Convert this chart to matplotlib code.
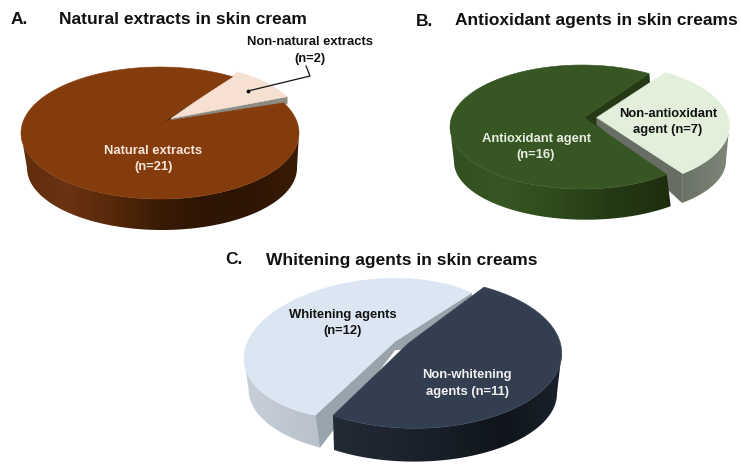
import numpy as np
import matplotlib
matplotlib.use("Agg")
import matplotlib.pyplot as plt
from matplotlib.colors import LinearSegmentedColormap
from matplotlib.patches import Polygon

plt.rcParams['font.family'] = ['Liberation Sans', 'DejaVu Sans']

natural_counts = [21, 2]
antioxidant_counts = [16, 7]
whitening_counts = [12, 11]
panel_letters = ["A.", "B.", "C."]
panel_titles = ["Natural extracts in skin cream", "Antioxidant agents in skin creams", "Whitening agents in skin creams"]

fig = plt.figure(figsize=(7.41, 4.72), dpi=100)
ax = fig.add_axes([0, 0, 1, 1])


def pt(e, t):
    cx, cy, rx, ry, k = e
    t = np.radians(np.atleast_1d(t))
    dx = rx * np.cos(t)
    return np.column_stack([cx + dx, cy - ry * np.sin(t) - k * dx])


def top(apex, e, t0, t1, color, z):
    ts = np.linspace(t0, t1, 300)
    ax.add_patch(Polygon(np.vstack([[apex], pt(e, ts)]), closed=True, fc=color, ec=color, lw=0.4, zorder=z))


def side(e, b, t0, t1, cols, z):
    lo, hi = min(t0, t1), max(t0, t1)
    cmap = LinearSegmentedColormap.from_list('s', cols)
    for shift in (-360, 0, 360):
        a0, a1 = max(lo, 180 + shift), min(hi, 360 + shift)
        if a1 <= a0:
            continue
        ts = np.linspace(a0, a1, 300)
        tp, bt = pt(e, ts), pt(b, ts)
        poly = np.vstack([tp, bt[::-1]])
        xl, xr = min(e[0] - e[2], b[0] - b[2]), max(e[0] + e[2], b[0] + b[2])
        yl, yh = poly[:, 1].min() - 2, poly[:, 1].max() + 2
        im = ax.imshow(np.linspace(0, 1, 256)[None, :], cmap=cmap, extent=(xl, xr, yh, yl),
                       aspect='auto', zorder=z, interpolation='bilinear')
        clip = Polygon(poly, closed=True, transform=ax.transData, fc='none', ec='none')
        ax.add_patch(clip)
        im.set_clip_path(clip)


def face(apex, apex_b, e, b, t, color, z):
    ax.add_patch(Polygon([apex, pt(e, t)[0], pt(b, t)[0], apex_b], closed=True, fc=color, ec=color, lw=0.3, zorder=z))


# Panel A
frac = 360 / sum(natural_counts)
s = 58.5
e_big = (160, 133, 139, 66, 0); b_big = (162, 168, 135, 62, 0)
e_sm = (168, 125, 134, 62, 0); b_sm = (168, 132, 134, 62, 0)
a_big = (163, 121.5); a_sm = (171, 118.5)
face(a_big, (163, 150), e_big, b_big, s, '#5C2A08', 1)
t_small = s - natural_counts[1] * frac
face(a_sm, (171, 125), e_sm, b_sm, t_small, '#8c8c84', 2)
top(a_sm, e_sm, t_small, s, '#F6E0D2', 3)
side(e_big, b_big, t_small, s - 360, ['#5f2d0e', '#6b3312', '#562809', '#3a1b06', '#2e1504', '#2e1504', '#3a1b06'], 4)
top(a_big, e_big, t_small, s - 360, '#843C0C', 5)

# Panel B
frac = 360 / sum(antioxidant_counts)
s = 59.5
e_big = (582, 127, 132, 62, 0); b_big = (586, 161.7, 132, 58, 0)
e_sm = (599.3, 126, 130, 62, 0); b_sm = (604, 160.7, 122, 55, 0)
a_big = (584, 117.5); a_sm = (596.7, 117.5)
face(a_big, (584, 152), e_big, b_big, s, '#243A15', 1)
t_small = s - antioxidant_counts[1] * frac
side(e_sm, b_sm, t_small, s, ['#5c6556', '#5c6556', '#5c6556', '#5f6a5a', '#7f867a'], 2)
face(a_sm, (596.7, 124.5), e_sm, b_sm, t_small, '#686E64', 2.5)
top(a_sm, e_sm, t_small, s, '#E2EFDA', 3)
side(e_big, b_big, t_small, s - 360, ['#32501f', '#375623', '#2f4a1c', '#243a15', '#1d2f10', '#17260c'], 4)
top(a_big, e_big, t_small, s - 360, '#375623', 5)

# Panel C
frac = 360 / sum(whitening_counts)
s_pale = 45
e_p = (377.3, 349, 133.3, 70, 0.07); b_p = (382, 390, 133.3, 65, 0.0)
e_d = (415, 353.3, 146.7, 75, 0); b_d = (414, 393.3, 143, 68.3, 0)
a_p = (395, 341.5); a_d = (408.3, 343.3)
t_pale = s_pale + whitening_counts[0] * frac * 1.05
face(a_p, (395, 350), e_p, b_p, s_pale, '#98A3AC', 1)
face(a_p, (395, 350), e_p, b_p, t_pale, '#98A3AC', 1)
side(e_p, b_p, s_pale, t_pale, ['#C7D0D9', '#BAC3CD', '#A9B3BD', '#A9B3BD', '#A9B3BD'], 1.5)
top(a_p, e_p, s_pale, t_pale, '#DCE6F2', 2)
d0 = 236
d1 = d0 + whitening_counts[1] * frac * 1.08
side(e_d, b_d, d0, d1, ['#232B37', '#232B37', '#1E2530', '#181E27', '#10151b', '#1a212b'], 3)
top(a_d, e_d, d0, d1, '#333F50', 4)

# Texts
for x, y, s_ in [(11, 19, panel_letters[0]), (416, 21, panel_letters[1]), (225, 260, panel_letters[2])]:
    ax.text(x, y, s_, fontsize=12.5, fontweight='bold', color='#111111', va='center', ha='left', zorder=10)
for x, y, s_ in [(59, 19, panel_titles[0]), (455, 21, panel_titles[1]), (266, 260, panel_titles[2])]:
    ax.text(x, y, s_, fontsize=12.5, fontweight='bold', color='#111111', va='center', ha='left', zorder=10)


def lab(x, y, s_, c):
    ax.text(x, y, s_, fontsize=9.4, fontweight='bold', color=c, ha='center', va='center', linespacing=1.55, zorder=10)


lab(153.5, 159, f"Natural extracts\n(n={natural_counts[0]})", '#F6E6DA')
lab(310, 50.5, f"Non-natural extracts\n(n={natural_counts[1]})", '#111111')
lab(536, 147, f"Antioxidant agent\n(n={antioxidant_counts[0]})", '#E8EFE2')
lab(668, 122, f"Non-antioxidant\nagent (n={antioxidant_counts[1]})", '#111111')
lab(343, 323, f"Whitening agents\n(n={whitening_counts[0]})", '#111111')
lab(467, 383.5, f"Non-whitening\nagents (n={whitening_counts[1]})", '#F2F2F2')

ax.plot([248, 310, 306], [91, 76, 66], color='#111111', lw=0.9, zorder=9, solid_joinstyle='miter')
ax.plot([248], [91], 'o', ms=1.8, color='#111111', zorder=9)

ax.set_xlim(0, 741); ax.set_ylim(472, 0); ax.axis('off')
fig.savefig('out.png', dpi=100)
